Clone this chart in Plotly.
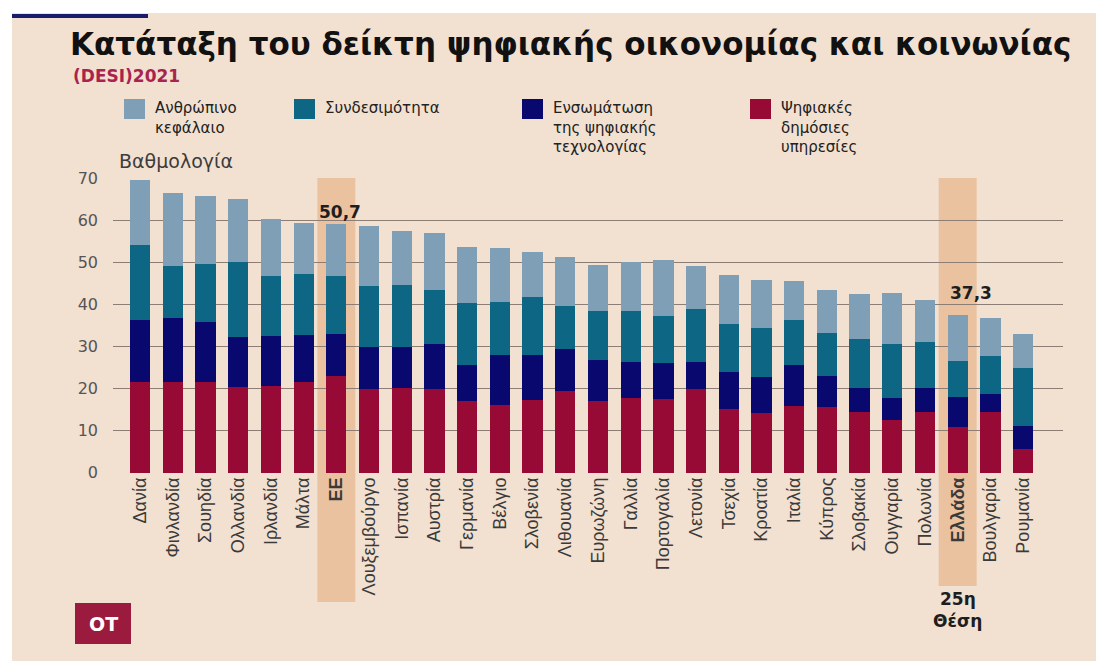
import plotly.graph_objects as go

countries = ["Δανία", "Φινλανδία", "Σουηδία", "Ολλανδία", "Ιρλανδία", "Μάλτα", "ΕΕ",
             "Λουξεμβούργο", "Ισπανία", "Αυστρία", "Γερμανία", "Βέλγιο", "Σλοβενία",
             "Λιθουανία", "Ευρωζώνη", "Γαλλία", "Πορτογαλία", "Λετονία", "Τσεχία",
             "Κροατία", "Ιταλία", "Κύπρος", "Σλοβακία", "Ουγγαρία", "Πολωνία",
             "Ελλάδα", "Βουλγαρία", "Ρουμανία"]

public_services = [21.5, 21.5, 21.5, 20.3, 20.6, 21.5, 23.1, 19.8, 20.2, 19.8, 17.0, 16.2, 17.2, 19.4,
                   17.0, 17.8, 17.6, 19.8, 15.2, 14.2, 15.8, 15.7, 14.4, 12.5, 14.4, 10.9, 14.5, 5.7]
integration = [14.9, 15.2, 14.3, 12.0, 11.8, 11.3, 9.9, 10.0, 9.8, 10.7, 8.7, 11.9, 10.9, 10.0,
               9.9, 8.5, 8.5, 6.5, 8.7, 8.5, 9.9, 7.4, 5.8, 5.3, 5.8, 7.1, 4.3, 5.5]
connectivity = [17.8, 12.5, 13.9, 17.9, 14.4, 14.4, 13.7, 14.7, 14.6, 13.0, 14.6, 12.6, 13.6, 10.2,
                11.5, 12.1, 11.2, 12.7, 11.5, 11.7, 10.7, 10.1, 11.7, 12.7, 10.8, 8.5, 9.0, 13.6]
human_capital = [15.4, 17.4, 16.0, 14.8, 13.5, 12.3, 12.4, 14.2, 12.9, 13.5, 13.5, 12.7, 10.7, 11.6,
                 10.9, 11.8, 13.3, 10.2, 11.5, 11.5, 9.1, 10.3, 10.7, 12.2, 10.1, 11.1, 9.0, 8.2]

series_names = ["Ψηφιακές δημόσιες υπηρεσίες", "Ενσωμάτωση της ψηφιακής τεχνολογίας",
                "Συνδεσιμότητα", "Ανθρώπινο κεφάλαιο"]
series_values = [public_services, integration, connectivity, human_capital]
colors = ["#980a36", "#08086e", "#0d6683", "#7f9fb6"]

highlights = ["ΕΕ", "Ελλάδα"]
eu_label = "50,7"
gr_label = "37,3"
y_ticks = [0, 10, 20, 30, 40, 50, 60, 70]

legend_items = [
    (["Ανθρώπινο", "κεφάλαιο"], "#7f9fb6"),
    (["Συνδεσιμότητα"], "#0d6683"),
    (["Ενσωμάτωση", "της ψηφιακής", "τεχνολογίας"], "#08086e"),
    (["Ψηφιακές", "δημόσιες", "υπηρεσίες"], "#980a36"),
]

OFF = 8                      # page body margin
W, H = 1104 - OFF, 661 - OFF
# plot area in page pixels
PL, PR, PT, PB = 113, 1063, 178, 473
L, R, T, B = PL - OFF, PR - OFF, PT - OFF, PB - OFF
BG = "#f2e0d0"


def px(x):
    """page pixel x -> paper coordinate"""
    return (x - PL) / (PR - PL)


def py(y):
    """page pixel y -> paper coordinate"""
    return (PB - y) / (PB - PT)


fig = go.Figure()
for name, vals, c in zip(series_names, series_values, colors):
    fig.add_trace(go.Bar(x=countries, y=vals, name=name, marker=dict(color=c, line=dict(width=0)),
                         hoverinfo="x+y+name"))

ticktext = [f"<b>{c}</b>" if c in highlights else c for c in countries]

shapes = []
# white frame strips
shapes.append(dict(type="rect", xref="paper", yref="paper", x0=px(0), x1=px(1104), y0=py(0), y1=py(13),
                   fillcolor="white", line=dict(width=0), layer="below"))
shapes.append(dict(type="rect", xref="paper", yref="paper", x0=px(0), x1=px(12), y0=py(0), y1=py(661),
                   fillcolor="white", line=dict(width=0), layer="below"))
# navy accent line
shapes.append(dict(type="rect", xref="paper", yref="paper", x0=px(12), x1=px(148), y0=py(14), y1=py(18),
                   fillcolor="#1b1b6b", line=dict(width=0)))
# highlight bands
band_bottoms = {"ΕΕ": 602, "Ελλάδα": 586}
for h in highlights:
    i = countries.index(h)
    shapes.append(dict(type="rect", xref="x", yref="paper", x0=i - 0.58, x1=i + 0.58,
                       y0=py(band_bottoms[h]), y1=1.0, fillcolor="#ebc2a0", line=dict(width=0),
                       layer="below"))
# legend squares
legend_x = [124, 294, 522, 750]
for (lines, c), lx in zip(legend_items, legend_x):
    shapes.append(dict(type="rect", xref="paper", yref="paper", x0=px(lx), x1=px(lx + 21),
                       y0=py(119), y1=py(99), fillcolor=c, line=dict(width=0)))
# OT logo box
shapes.append(dict(type="rect", xref="paper", yref="paper", x0=px(75), x1=px(131), y0=py(644), y1=py(603),
                   fillcolor="#9b1b3e", line=dict(width=0)))

annotations = []
FONT = "DejaVu Sans"
annotations.append(dict(text="(DESI)2021", xref="paper", yref="paper", x=px(71), y=py(76),
                        xanchor="left", yanchor="middle", showarrow=False,
                        font=dict(family=FONT, size=17, color="#a8244f", weight="bold")))
for (lines, c), lx in zip(legend_items, legend_x):
    annotations.append(dict(text="<br>".join(lines), xref="paper", yref="paper", x=px(lx + 29), y=py(97),
                            xanchor="left", yanchor="top", align="left", showarrow=False,
                            font=dict(family=FONT, size=15, color="#222222")))
annotations.append(dict(text="Βαθμολογία", xref="paper", yref="paper", x=px(117), y=py(161),
                        xanchor="left", yanchor="middle", showarrow=False,
                        font=dict(family=FONT, size=19, color="#3c3c3c")))
annotations.append(dict(text=f"<b>{eu_label}</b>", x="ΕΕ", y=62.0, xshift=4, showarrow=False,
                        yanchor="middle", font=dict(family=FONT, size=17, color="#1e1e1e")))
annotations.append(dict(text=f"<b>{gr_label}</b>", x="Ελλάδα", y=42.7, xshift=13, showarrow=False,
                        yanchor="middle", font=dict(family=FONT, size=17, color="#1e1e1e")))
annotations.append(dict(text="<b>25η</b>", x="Ελλάδα", xref="x", yref="paper", y=py(599), showarrow=False,
                        yanchor="middle", font=dict(family=FONT, size=17, color="#1e1e1e")))
annotations.append(dict(text="<b>Θέση</b>", x="Ελλάδα", xref="x", yref="paper", y=py(621), showarrow=False,
                        yanchor="middle", font=dict(family=FONT, size=17, color="#1e1e1e")))
annotations.append(dict(text="<b>OT</b>", xref="paper", yref="paper", x=px(103), y=py(624), showarrow=False,
                        xanchor="center", yanchor="middle", font=dict(family=FONT, size=19, color="white")))

fig.update_layout(
    width=W, height=H,
    margin=dict(l=L, r=W - R, t=T, b=H - B, pad=0),
    paper_bgcolor=BG, plot_bgcolor="rgba(0,0,0,0)",
    barmode="stack", bargap=0.38, showlegend=False,
    title=dict(text="<b>Κατάταξη του δείκτη ψηφιακής οικονομίας και κοινωνίας</b>",
               x=(70 - OFF) / W, y=1 - (44 - OFF) / H, xref="container", yref="container",
               xanchor="left", yanchor="middle",
               font=dict(family=FONT, size=31, color="#111111")),
    shapes=shapes, annotations=annotations,
    xaxis=dict(range=[-0.83, 28.22], tickangle=-90, tickmode="array", tickvals=countries, ticktext=ticktext,
               tickfont=dict(family="Liberation Sans, Arial", size=18, color="#3a3a3a"),
               showgrid=False, showline=False, zeroline=False, ticks=""),
    yaxis=dict(range=[-0.1, 70.1], tickvals=y_ticks, showgrid=True, gridcolor="#8c7e75", gridwidth=1,
               zeroline=False, showline=False, ticks="", ticklabelstandoff=14,
               tickfont=dict(family=FONT, size=16, color="#555555")),
)

fig.write_html("out.html")
